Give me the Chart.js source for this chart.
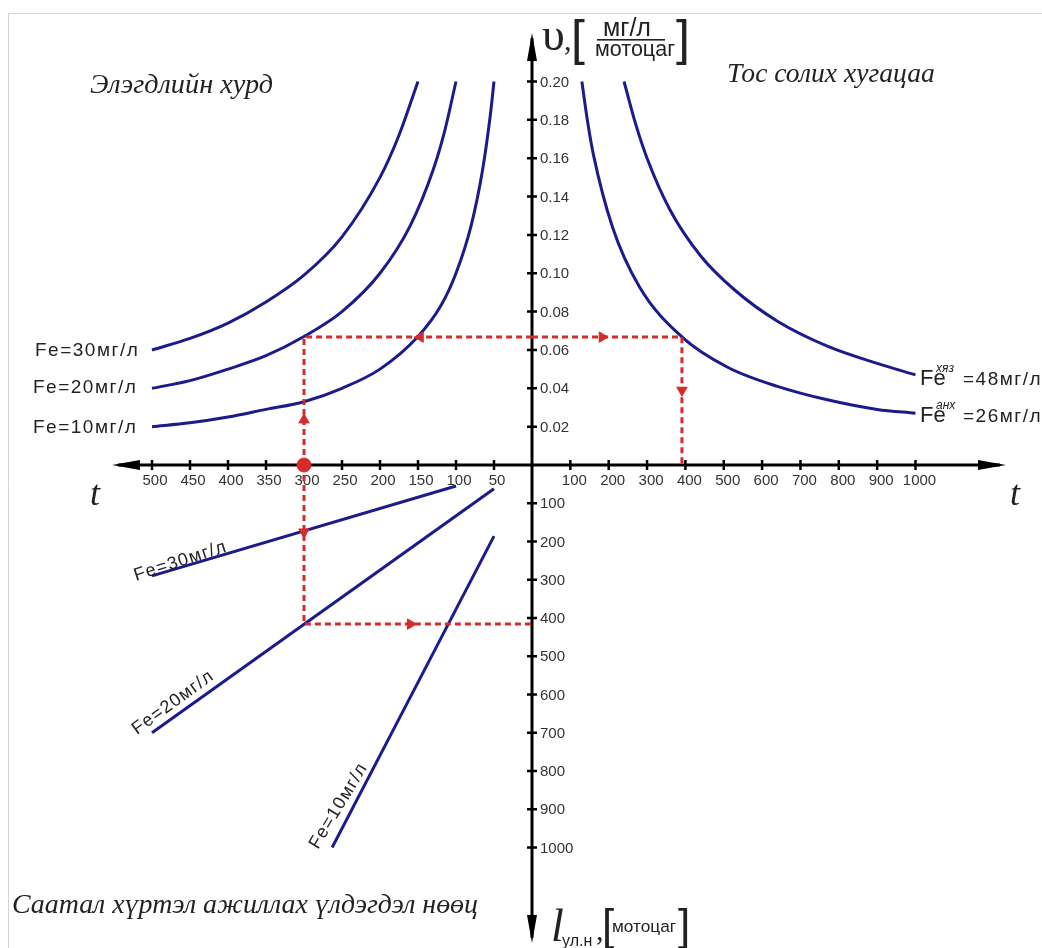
<!DOCTYPE html>
<html>
<head>
<meta charset="utf-8">
<title>Nomogram</title>
<script src="https://cdn.jsdelivr.net/npm/chart.js@4.4.0/dist/chart.umd.min.js"></script>
<style>
  html, body { margin: 0; padding: 0; background: #fff; overflow: hidden; }
  #wrap { width: 1042px; height: 948px; }
</style>
</head>
<body>
<div id="wrap"><canvas id="nomogram" width="1042" height="948"></canvas></div>
<script>
// tick labels of the four half-axes
const leftTicks = [50, 100, 150, 200, 250, 300, 350, 400, 450, 500];
const rightTicks = [100, 200, 300, 400, 500, 600, 700, 800, 900, 1000];
const speedTicks = [0.02, 0.04, 0.06, 0.08, 0.10, 0.12, 0.14, 0.16, 0.18, 0.20];
const reserveTicks = [100, 200, 300, 400, 500, 600, 700, 800, 900, 1000];

// top-left: wear rate vs hours
const wearT30 = [500, 450, 400, 350, 300, 250, 200, 175, 150];
const wearV30 = [0.060, 0.066, 0.074, 0.085, 0.099, 0.119, 0.150, 0.172, 0.200];
const wearT20 = [500, 450, 400, 350, 300, 250, 200, 160, 130, 115, 100];
const wearV20 = [0.040, 0.044, 0.050, 0.057, 0.067, 0.080, 0.100, 0.125, 0.154, 0.174, 0.200];
const wearT10 = [500, 450, 400, 350, 300, 250, 200, 150, 120, 100, 80, 65, 55, 50];
const wearV10 = [0.020, 0.022, 0.025, 0.029, 0.033, 0.040, 0.050, 0.067, 0.083, 0.100, 0.125, 0.154, 0.182, 0.200];

// top-right: oil change time
const oilT48 = [240, 270, 300, 360, 440, 530, 640, 770, 900, 1000];
const oilV48 = [0.200, 0.178, 0.160, 0.133, 0.109, 0.091, 0.075, 0.062, 0.053, 0.047];
const oilT26 = [130, 145, 160, 210, 280, 390, 510, 640, 770, 900, 1000];
const oilV26 = [0.200, 0.179, 0.162, 0.124, 0.093, 0.067, 0.051, 0.041, 0.034, 0.029, 0.027];

// bottom-left: remaining work reserve
const resT30 = [500, 100];
const resL30 = [290, 55];
const resT20 = [500, 50];
const resL20 = [700, 62];
const resT10 = [263, 50];
const resL10 = [1000, 186];

// red example path
const guideWearT = [300, 300, 0];
const guideWearV = [0, 0.0667, 0.0667];
const guideOilT = [0, 391, 391];
const guideOilV = [0.0667, 0.0667, 0];
const guideResT = [300, 300, 0];
const guideResL = [0, 416, 416];
const arrowWearT = [300, 147];
const arrowWearV = [0.0235, 0.0667];
const arrowWearDir = [0, 270];
const arrowOilT = [183, 391];
const arrowOilV = [0.0667, 0.039];
const arrowOilDir = [90, 180];
const arrowResT = [300, 160];
const arrowResL = [175, 416];
const arrowResDir = [180, 90];
const startT = [300];
const startV = [0];

// layout of the cross
const W = 1042, H = 948;
const ORIGIN_X = 532, ORIGIN_Y = 465;
const PX_T_LEFT = 38 / 50;
const PX_T_RIGHT = 38.35 / 100;
const PX_V = 38.35 / 0.02;
const PX_L = 38.25 / 100;

const BLUE = '#1b1b8c';
const RED = '#d42b2b';
const SANS = '"Liberation Sans", Arial, sans-serif';
const SERIF = '"Liberation Serif", "Times New Roman", serif';

function pts(xs, ys) {
    return xs.map((x, i) => ({ x: x, y: ys[i] }));
}

function curve(xs, ys, xAxisID, yAxisID) {
    return {
        data: pts(xs, ys), xAxisID: xAxisID, yAxisID: yAxisID,
        borderColor: BLUE, borderWidth: 3, pointRadius: 0,
        cubicInterpolationMode: 'monotone', fill: false, order: 3
    };
}

function guide(xs, ys, xAxisID, yAxisID) {
    return {
        data: pts(xs, ys), xAxisID: xAxisID, yAxisID: yAxisID,
        borderColor: RED, borderWidth: 3, borderDash: [6, 4], pointRadius: 0,
        tension: 0, fill: false, order: 2
    };
}

function arrows(xs, ys, dirs, xAxisID, yAxisID) {
    return {
        type: 'scatter', data: pts(xs, ys), xAxisID: xAxisID, yAxisID: yAxisID,
        pointStyle: 'triangle', pointRadius: 6, pointRotation: dirs,
        pointBackgroundColor: RED, pointBorderColor: RED, pointBorderWidth: 1, order: 1
    };
}

function text(ctx, s, x, y, font, align, color, spacing) {
    ctx.font = font;
    ctx.textAlign = align || 'left';
    ctx.fillStyle = color || '#222';
    ctx.letterSpacing = spacing ? spacing + 'px' : '0px';
    ctx.fillText(s, x, y);
    ctx.letterSpacing = '0px';
}

function fitText(ctx, s, x, y, width, style, family, align) {
    ctx.font = style + ' 100px ' + family;
    ctx.letterSpacing = '0px';
    const size = 100 * width / ctx.measureText(s).width;
    text(ctx, s, x, y, style + ' ' + size.toFixed(1) + 'px ' + family, align, '#222');
}

function arrowHead(ctx, tx, ty, dx, dy) {
    const len = 28, half = 5;
    const bx = tx - dx * len, by = ty - dy * len;
    ctx.beginPath();
    ctx.moveTo(tx, ty);
    ctx.lineTo(bx - dy * half, by + dx * half);
    ctx.lineTo(bx + dy * half, by - dx * half);
    ctx.closePath();
    ctx.fill();
}

function feLabel(ctx, x, base, sup, rest) {
    text(ctx, 'Fe', x, base, '22px ' + SANS, 'left', '#222');
    text(ctx, sup, x + 16, base - 13, 'italic 12px ' + SANS, 'left', '#222');
    text(ctx, rest, x + 43, base, '19px ' + SANS, 'left', '#222', 1.5);
}

function rotated(ctx, s, x, y, deg) {
    ctx.save();
    ctx.translate(x, y);
    ctx.rotate(deg * Math.PI / 180);
    text(ctx, s, 0, 0, '18px ' + SANS, 'left', '#222', 1.2);
    ctx.restore();
}

const crossAxes = {
    id: 'crossAxes',
    beforeDatasetsDraw(chart) {
        const { ctx, scales } = chart;
        const x0 = scales.xl.getPixelForValue(0);
        const y0 = scales.yv.getPixelForValue(0);
        ctx.save();
        ctx.fillStyle = '#fff';
        ctx.fillRect(0, 0, W, H);

        // thin frame of the original figure
        ctx.strokeStyle = '#d4d4d4';
        ctx.lineWidth = 1;
        ctx.beginPath();
        ctx.moveTo(8.5, H);
        ctx.lineTo(8.5, 13.5);
        ctx.lineTo(W, 13.5);
        ctx.stroke();

        ctx.strokeStyle = '#000';
        ctx.fillStyle = '#000';
        ctx.lineWidth = 3;
        ctx.beginPath();
        ctx.moveTo(118, y0);
        ctx.lineTo(1000, y0);
        ctx.moveTo(x0, 38);
        ctx.lineTo(x0, 938);
        ctx.stroke();
        arrowHead(ctx, 112, y0, -1, 0);
        arrowHead(ctx, 1006, y0, 1, 0);
        arrowHead(ctx, x0, 33, 0, -1);
        arrowHead(ctx, x0, 943, 0, 1);

        ctx.lineWidth = 2.5;
        ctx.beginPath();
        leftTicks.forEach(t => {
            const px = scales.xl.getPixelForValue(t);
            ctx.moveTo(px, y0 - 5); ctx.lineTo(px, y0 + 5);
        });
        rightTicks.forEach(t => {
            const px = scales.xr.getPixelForValue(t);
            ctx.moveTo(px, y0 - 5); ctx.lineTo(px, y0 + 5);
        });
        speedTicks.forEach(v => {
            const py = scales.yv.getPixelForValue(v);
            ctx.moveTo(x0 - 5, py); ctx.lineTo(x0 + 5, py);
        });
        reserveTicks.forEach(l => {
            const py = scales.yl.getPixelForValue(l);
            ctx.moveTo(x0 - 5, py); ctx.lineTo(x0 + 5, py);
        });
        ctx.stroke();

        ctx.textBaseline = 'middle';
        const tickFont = '15px ' + SANS;
        leftTicks.forEach(t => text(ctx, String(t), scales.xl.getPixelForValue(t) + 3, y0 + 16, tickFont, 'center', '#333'));
        rightTicks.forEach(t => text(ctx, String(t), scales.xr.getPixelForValue(t) + 4, y0 + 16, tickFont, 'center', '#333'));
        speedTicks.forEach(v => text(ctx, v.toFixed(2), x0 + 8, scales.yv.getPixelForValue(v) + 1, tickFont, 'left', '#333'));
        reserveTicks.forEach(l => text(ctx, String(l), x0 + 8, scales.yl.getPixelForValue(l) + 1, tickFont, 'left', '#333'));
        ctx.restore();
    },
    afterDatasetsDraw(chart) {
        const { ctx } = chart;
        ctx.save();
        ctx.textBaseline = 'alphabetic';

        fitText(ctx, 'Элэгдлийн хурд', 90, 93, 183, 'italic', SERIF);
        fitText(ctx, 'Тос солих хугацаа', 727, 82, 208, 'italic', SERIF);
        fitText(ctx, 'Саатал хүртэл ажиллах үлдэгдэл нөөц', 12, 913, 466, 'italic', SERIF);

        text(ctx, 't', 90, 505, 'italic 36px ' + SERIF, 'left', '#222');
        text(ctx, 't', 1010, 505, 'italic 36px ' + SERIF, 'left', '#222');

        // vertical axis title (top)
        text(ctx, 'υ', 542, 50, '46px ' + SERIF, 'left', '#222');
        text(ctx, ',', 564, 50, '30px ' + SERIF, 'left', '#222');
        text(ctx, '[', 571, 55, '50px ' + SANS, 'left', '#222');
        fitText(ctx, 'мг/л', 627, 36, 48, '', SANS, 'center');
        ctx.fillRect(597, 39, 68, 1.6);
        fitText(ctx, 'мотоцаг', 635, 56, 80, '', SANS, 'center');
        text(ctx, ']', 676, 55, '50px ' + SANS, 'left', '#222');

        // vertical axis title (bottom)
        text(ctx, 'l', 551, 941, 'italic 46px ' + SERIF, 'left', '#222');
        text(ctx, 'ул.н', 562, 946, '16px ' + SANS, 'left', '#222');
        text(ctx, ',', 596, 940, '30px ' + SERIF, 'left', '#222');
        text(ctx, '[', 602, 940, '44px ' + SANS, 'left', '#222');
        fitText(ctx, 'мотоцаг', 644, 932, 64, '', SANS, 'center');
        text(ctx, ']', 678, 940, '44px ' + SANS, 'left', '#222');

        // curve labels
        ctx.textBaseline = 'middle';
        text(ctx, 'Fe=30мг/л', 35, 351, '19px ' + SANS, 'left', '#222', 1.5);
        text(ctx, 'Fe=20мг/л', 33, 388, '19px ' + SANS, 'left', '#222', 1.5);
        text(ctx, 'Fe=10мг/л', 33, 428, '19px ' + SANS, 'left', '#222', 1.5);
        ctx.textBaseline = 'alphabetic';
        feLabel(ctx, 920, 385, 'хяз', '=48мг/л');
        feLabel(ctx, 920, 422, 'анх', '=26мг/л');

        rotated(ctx, 'Fe=30мг/л', 136, 581, -18);
        rotated(ctx, 'Fe=20мг/л', 137, 735, -36);
        rotated(ctx, 'Fe=10мг/л', 318, 850, -59);
        ctx.restore();
    }
};

const tMaxLeft = ORIGIN_X / PX_T_LEFT;
const tMinLeft = -(W - ORIGIN_X) / PX_T_LEFT;

new Chart(document.getElementById('nomogram'), {
    type: 'line',
    data: {
        datasets: [
            arrows(arrowWearT, arrowWearV, arrowWearDir, 'xl', 'yv'),
            arrows(arrowOilT, arrowOilV, arrowOilDir, 'xr', 'yv'),
            arrows(arrowResT, arrowResL, arrowResDir, 'xl', 'yl'),
            {
                type: 'scatter', data: pts(startT, startV), xAxisID: 'xl', yAxisID: 'yv',
                pointRadius: 7, pointBackgroundColor: RED, pointBorderColor: RED, order: 0
            },
            guide(guideWearT, guideWearV, 'xl', 'yv'),
            guide(guideOilT, guideOilV, 'xr', 'yv'),
            guide(guideResT, guideResL, 'xl', 'yl'),
            curve(wearT30, wearV30, 'xl', 'yv'),
            curve(wearT20, wearV20, 'xl', 'yv'),
            curve(wearT10, wearV10, 'xl', 'yv'),
            curve(oilT48, oilV48, 'xr', 'yv'),
            curve(oilT26, oilV26, 'xr', 'yv'),
            curve(resT30, resL30, 'xl', 'yl'),
            curve(resT20, resL20, 'xl', 'yl'),
            curve(resT10, resL10, 'xl', 'yl')
        ]
    },
    options: {
        responsive: false,
        animation: false,
        devicePixelRatio: 1,
        layout: { padding: 0, autoPadding: false },
        plugins: { legend: { display: false }, tooltip: { enabled: false } },
        scales: {
            xl: { type: 'linear', axis: 'x', reverse: true, min: tMinLeft, max: tMaxLeft, bounds: 'data', display: false },
            xr: { type: 'linear', axis: 'x', min: -ORIGIN_X / PX_T_RIGHT, max: (W - ORIGIN_X) / PX_T_RIGHT, bounds: 'data', display: false },
            yv: { type: 'linear', axis: 'y', min: -(H - ORIGIN_Y) / PX_V, max: ORIGIN_Y / PX_V, bounds: 'data', display: false },
            yl: { type: 'linear', axis: 'y', reverse: true, min: -ORIGIN_Y / PX_L, max: (H - ORIGIN_Y) / PX_L, bounds: 'data', display: false }
        }
    },
    plugins: [crossAxes]
});
</script>
</body>
</html>
